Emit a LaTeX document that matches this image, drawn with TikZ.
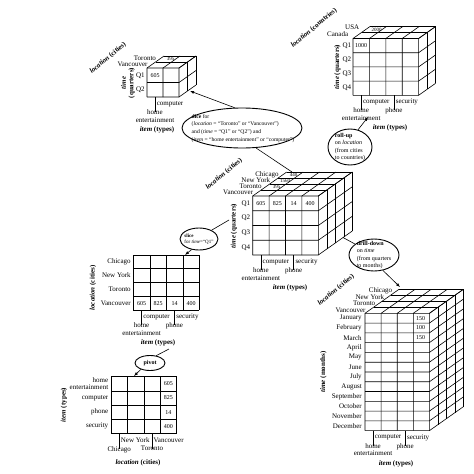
\documentclass[tikz,border=0pt]{standalone}
\usepackage{fontspec}
\setmainfont{Liberation Serif}
\usetikzlibrary{shapes.geometric,arrows.meta}
% cube: #1 x0, #2 y0, #3 ncols, #4 nrows, #5 ndepth, #6 cell w, #7 row h, #8 dx, #9 dy
\newcommand{\olapcube}[9]{%
  \pgfmathsetmacro{\cxa}{#1+#3*#6}%
  \pgfmathsetmacro{\cya}{#2+#4*#7}%
  \pgfmathsetmacro{\cdx}{#5*(#8)}%
  \pgfmathsetmacro{\cdy}{#5*(#9)}%
  \foreach \k in {0,...,#4}{\draw ({#1},{#2+\k*#7}) -- ({\cxa},{#2+\k*#7}) -- ++({\cdx},{\cdy});}%
  \foreach \k in {0,...,#3}{\draw ({#1+\k*#6},{\cya}) -- ({#1+\k*#6},{#2}) -- ++({\cdx},{\cdy});}%
  \foreach \k in {1,...,#5}{\draw ({#1+\k*(#8)},{#2+\k*(#9)}) -- ({\cxa+\k*(#8)},{#2+\k*(#9)}) -- ({\cxa+\k*(#8)},{\cya+\k*(#9)});}%
}
% flat grid: #1 x0, #2 y0, #3 ncols, #4 nrows, #5 cell w, #6 row h
\newcommand{\olapgrid}[6]{%
  \foreach \k in {0,...,#4}{\draw ({#1},{#2+\k*#6}) -- ({#1+#3*#5},{#2+\k*#6});}%
  \foreach \k in {0,...,#3}{\draw ({#1+\k*#5},{#2}) -- ({#1+\k*#5},{#2+#4*#6});}%
}
% item labels: #1 prefix, #2 c1, #3 c3, #4 y1, #5 cx
\newcommand{\itemlbls}[5]{%
  \draw ({#2},{#4}) -- ++(0,15);
  \draw ({#3},{#4}) -- ++(0,15);
  \node[lbl,anchor=west] (#1-comp) at ({#2+1.5},{#4+7}) {computer};
  \node[lbl,anchor=west] (#1-sec) at ({#3+1.5},{#4+7}) {security};
  \node[lbl,anchor=north,align=center] (#1-home) at ({#2},{#4+12.5}) {home\\entertainment};
  \node[lbl,anchor=north] (#1-phone) at ({#3},{#4+12.5}) {phone};
  \node[axis] (#1-item) at ({#5},{#4+33}) {\textit{item} (types)};
}
\begin{document}
\begin{tikzpicture}[x=1pt,y=-1pt,line width=0.6pt,
  lbl/.style={font=\fontsize{7}{7.5}\selectfont,inner sep=0pt},
  axis/.style={font=\fontsize{7}{7.5}\selectfont\bfseries,inner sep=0pt},
  val/.style={font=\fontsize{6}{7}\selectfont,inner sep=0pt},
  topval/.style={font=\fontsize{5}{6}\selectfont,inner sep=0pt},
  opell/.style={draw,ellipse,line width=0.9pt,inner sep=0pt},
  optxt/.style={align=left,inner sep=0pt},
  arr/.style={-{Latex[length=4pt,width=3pt]}}]
\fill[white] (0,0) rectangle (474,474);
\useasboundingbox (0,0) rectangle (474,474);

% ---------- cube 1 (dice result) ----------
\olapcube{147}{68}{2}{2}{2}{16}{14.5}{8.5}{-6}
\node[lbl,anchor=east] (a-van) at (147.75,64) {Vancouver};
\node[lbl,anchor=east] (a-tor) at (156.25,58) {Toronto};
\node[topval] (a-395) at (170.5,59) {395};
\node[lbl,anchor=east] (a-q1) at (145,75.25) {Q1};
\node[lbl,anchor=east] (a-q2) at (145,89.75) {Q2};
\node[val] (a-605) at (155,75.25) {605};
\node[axis,rotate=90,align=center] (a-time) at (128,83) {\textit{time}\\(quarters)};
\node[axis,rotate=40] (a-loc) at (108,58) {\textit{location} (cities)};
\draw (155,97) -- ++(0,15);
\node[lbl,anchor=west] (a-comp) at (156.5,104) {computer};
\node[lbl,anchor=north,align=center] (a-home) at (155,109.5) {home\\entertainment};
\node[axis] (a-item) at (157,130) {\textit{item} (types)};

% ---------- cube 2 (roll-up result) ----------
\olapcube{353}{38.5}{4}{4}{2}{16.4}{14.2}{8.5}{-6}
\node[lbl,anchor=east] (b-can) at (348.5,34) {Canada};
\node[lbl,anchor=east] (b-usa) at (359.5,27) {USA};
\node[topval] (b-2000) at (376.5,29.5) {2000};
\node[lbl,anchor=east] (b-q1) at (351.5,45.6) {Q1};
\node[lbl,anchor=east] (b-q2) at (351.5,59.8) {Q2};
\node[lbl,anchor=east] (b-q3) at (351.5,74) {Q3};
\node[lbl,anchor=east] (b-q4) at (351.5,88.2) {Q4};
\node[val] (b-1000) at (361.2,45.6) {1000};
\node[axis,rotate=90] (b-time) at (337.5,67) {\textit{time} (quarters)};
\node[axis,rotate=40] (b-loc) at (314,28) {\textit{location} (countries)};
\itemlbls{b}{361.2}{394}{95.3}{390}

% ---------- main cube ----------
\olapcube{252.7}{196}{4}{4}{4}{16.4}{14.75}{8.5}{-6}
\node[lbl,anchor=east] (m-van) at (253.45,192.5) {Vancouver};
\node[lbl,anchor=east] (m-tor) at (261.95,186.5) {Toronto};
\node[lbl,anchor=east] (m-ny) at (270.45,180.5) {New York};
\node[lbl,anchor=east] (m-chi) at (278.95,174.5) {Chicago};
\node[topval] (m-395) at (276.6,187) {395};
\node[topval] (m-1560) at (285.1,181) {1560};
\node[topval] (m-440) at (293.6,175) {440};
\node[lbl,anchor=east] (m-q1) at (250.5,203.4) {Q1};
\node[lbl,anchor=east] (m-q2) at (250.5,218.1) {Q2};
\node[lbl,anchor=east] (m-q3) at (250.5,232.9) {Q3};
\node[lbl,anchor=east] (m-q4) at (250.5,247.6) {Q4};
\node[val] (m-v1) at (260.9,203.4) {605};
\node[val] (m-v2) at (277.3,203.4) {825};
\node[val] (m-v3) at (293.7,203.4) {14};
\node[val] (m-v4) at (310.1,203.4) {400};
\node[axis,rotate=90] (m-time) at (234,226) {\textit{time} (quarters)};
\node[axis,rotate=40] (m-loc) at (224,174) {\textit{location} (cities)};
\itemlbls{m}{260.9}{293.7}{255}{290}

% ---------- drill-down cube ----------
\olapcube{365}{313.3}{4}{12}{4}{16.1}{9.78}{8.5}{-6}
\node[lbl,anchor=east] (d-van) at (365.75,309.8) {Vancouver};
\node[lbl,anchor=east] (d-tor) at (375.5,303.6) {Toronto};
\node[lbl,anchor=east] (d-ny) at (384.5,297.4) {New York};
\node[lbl,anchor=east] (d-chi) at (392.5,291.2) {Chicago};
\foreach \mname [count=\i from 0] in {January,February,March,April,May,June,July,August,September,October,November,December}
  \node[lbl,anchor=east] (d-m\i) at ({362},{318.2+\i*9.78}) {\mname};
\node[val] (d-v1) at (420.5,318.2) {150};
\node[val] (d-v2) at (420.5,327.97) {100};
\node[val] (d-v3) at (420.5,337.75) {150};
\node[axis,rotate=90] (d-time) at (323.5,372) {\textit{time} (months)};
\node[axis,rotate=40] (d-loc) at (336,290) {\textit{location} (cities)};
\itemlbls{d}{373.05}{405.25}{430.7}{396}

% ---------- slice grid ----------
\olapgrid{133.3}{255}{4}{4}{16.5}{13.75}
\node[lbl,anchor=east] (s-chi) at (131,261.9) {Chicago};
\node[lbl,anchor=east] (s-ny) at (131,275.6) {New York};
\node[lbl,anchor=east] (s-tor) at (131,289.4) {Toronto};
\node[lbl,anchor=east] (s-van) at (131,303.1) {Vancouver};
\node[val] (s-v1) at (141.55,303.1) {605};
\node[val] (s-v2) at (158.05,303.1) {825};
\node[val] (s-v3) at (174.55,303.1) {14};
\node[val] (s-v4) at (191.05,303.1) {400};
\node[axis,rotate=90] (s-loc) at (93,288) {\textit{location} (cities)};
\itemlbls{s}{141.55}{174.55}{310}{158}

% ---------- pivot grid ----------
\olapgrid{111}{376.7}{4}{4}{16.4}{14.2}
\node[lbl,anchor=east,align=right] (p-home) at (108.5,383.8) {home\\entertainment};
\node[lbl,anchor=east] (p-comp) at (108.5,398) {computer};
\node[lbl,anchor=east] (p-phone) at (108.5,412.2) {phone};
\node[lbl,anchor=east] (p-sec) at (108.5,426.4) {security};
\node[val] (p-v1) at (168.4,383.8) {605};
\node[val] (p-v2) at (168.4,398) {825};
\node[val] (p-v3) at (168.4,412.2) {14};
\node[val] (p-v4) at (168.4,426.4) {400};
\node[axis,rotate=90] (p-item) at (64,405) {\textit{item} (types)};
\draw (119.2,433.5) -- ++(0,15);
\draw (152,433.5) -- ++(0,15);
\node[lbl,anchor=west] (p-ny) at (120.6,440.5) {New York};
\node[lbl,anchor=west] (p-vanc) at (153.4,440.5) {Vancouver};
\node[lbl,anchor=north] (p-chi) at (119.2,446) {Chicago};
\node[lbl,anchor=north] (p-tor) at (152,446) {Toronto};
\node[axis] (p-loc) at (138,462.5) {\textit{location} (cities)};

% ---------- operation ellipses ----------
\node[opell,minimum width=120pt,minimum height=40pt] (dice) at (242,128) {};
\node[optxt,font=\fontsize{5.6}{7.8}\selectfont] (dicetxt) at (243,128.5)
  {{\bfseries dice} for\\(\textit{location} = “Toronto” or “Vancouver”)\\and (\textit{time} = “Q1” or “Q2”) and\\(\textit{item} = “home entertainment” or “computer”)};

\node[opell,minimum width=44pt,minimum height=36pt] (roll) at (350,147) {};
\node[optxt,font=\fontsize{6}{7.4}\selectfont] (rolltxt) at (350,147)
  {{\bfseries roll-up}\\on \textit{location}\\(from cities\\to countries)};

\node[opell,minimum width=50pt,minimum height=32pt] (drill) at (374,255) {};
\node[optxt,font=\fontsize{6}{7.2}\selectfont] (drilltxt) at (374,255)
  {{\bfseries drill-down}\\on \textit{time}\\(from quarters\\to months)};

\node[opell,minimum width=38pt,minimum height=22pt] (slice) at (199,239) {};
\node[optxt,font=\fontsize{5}{6}\selectfont] (slicetxt) at (199,239)
  {{\bfseries slice}\\for \textit{time}=“Q1”};

\node[opell,minimum width=30pt,minimum height=15pt] (pivot) at (150,363) {};
\node[inner sep=0pt,font=\fontsize{6}{7}\selectfont\bfseries] (pivottxt) at (150,363) {pivot};

% ---------- connectors ----------
\coordinate (c1face) at (190,91);
\coordinate (maintop) at (292,172);
\coordinate (c2tip) at (368,117);
\coordinate (mainright) at (343,237.5);
\coordinate (drilltip) at (400,287);
\coordinate (mainleft) at (229,220);
\coordinate (slicetip) at (185,255);
\coordinate (pivotsrc) at (169,349);
\coordinate (pivottip) at (134,376);

\draw[arr] (dice.110) -- (c1face);
\draw (maintop) -- (dice.-55);
\draw[arr] (roll.65) -- (c2tip);
\draw (mainright) -- (drill.150);
\draw[arr] (drill.-60) -- (drilltip);
\draw (mainleft) -- (slice.35);
\draw[arr] (slice.235) -- (slicetip);
\draw (pivotsrc) -- (pivot.50);
\draw[arr] (pivot.215) -- (pivottip);
\end{tikzpicture}
\end{document}
